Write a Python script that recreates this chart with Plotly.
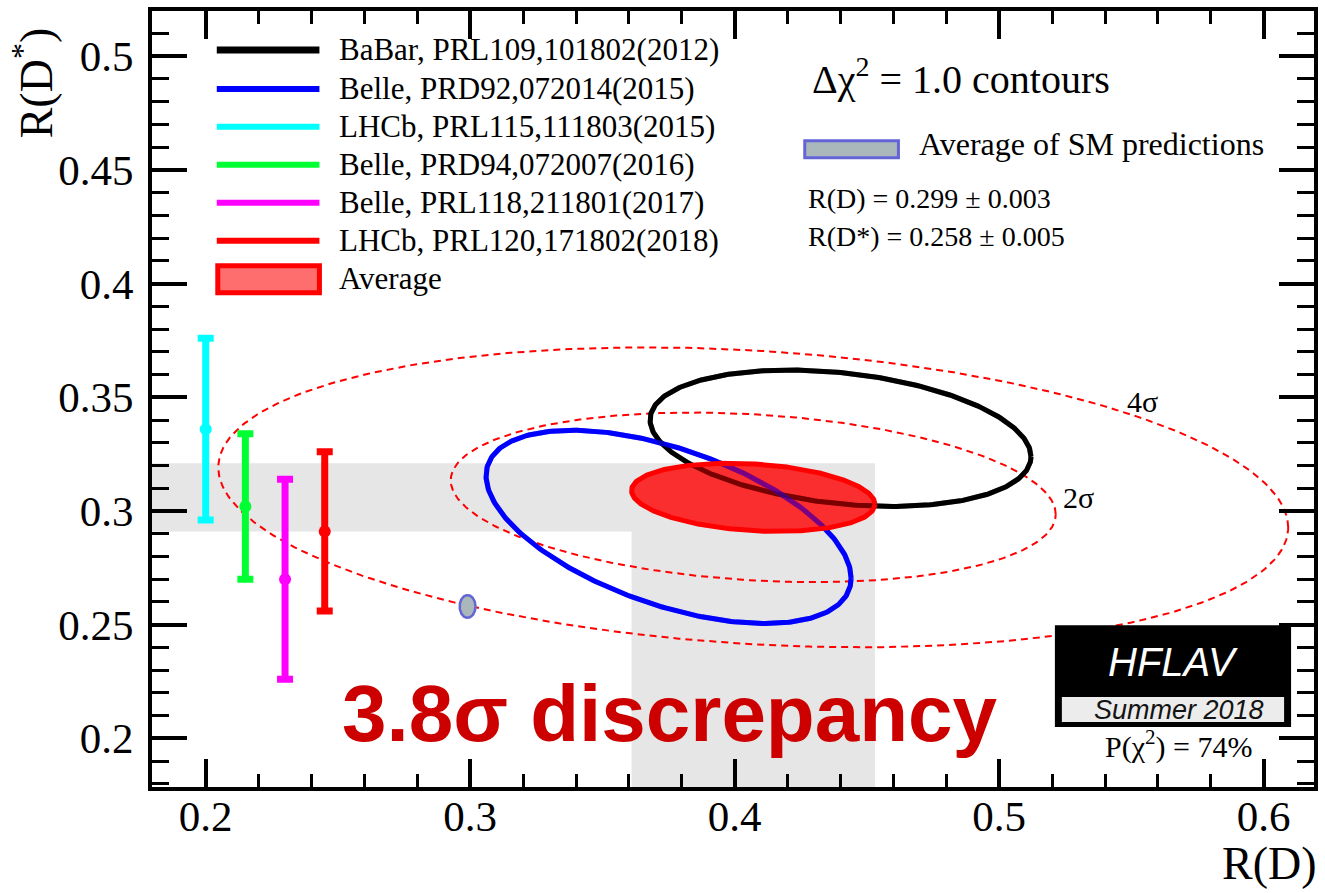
import numpy as np
import plotly.graph_objects as go

# ---------------- data ----------------
x_range = [0.1797, 0.619]
y_range = [0.1786, 0.5199]
x_tickvals = [0.2, 0.3, 0.4, 0.5, 0.6]
x_ticktext = ["0.2", "0.3", "0.4", "0.5", "0.6"]
y_tickvals = [0.2, 0.25, 0.3, 0.35, 0.4, 0.45, 0.5]
y_ticktext = ["0.2", "0.25", "0.3", "0.35", "0.4", "0.45", "0.5"]

# 2D measurements (Delta chi2 = 1 ellipses)
ell_names = ["BaBar, PRL109,101802(2012)", "Belle, PRD92,072014(2015)"]
ell_rd = [0.440, 0.375]
ell_rd_err = [0.072, 0.069]
ell_rds = [0.332, 0.293]
ell_rds_err = [0.030, 0.0425]
ell_rho = [-0.27, -0.53]
ell_colors = ["#000000", "#0000ff"]

# R(D*)-only measurements
bar_names = ["LHCb, PRL115,111803(2015)", "Belle, PRD94,072007(2016)",
             "Belle, PRL118,211801(2017)", "LHCb, PRL120,171802(2018)"]
bar_rd_pos = [0.200, 0.215, 0.230, 0.245]
bar_rds = [0.336, 0.302, 0.270, 0.291]
bar_rds_err = [0.040, 0.032, 0.044, 0.035]
bar_colors = ["#00ffff", "#00ff33", "#ff00ff", "#ff0000"]

# average
avg_rd, avg_rd_err = 0.407, 0.046
avg_rds, avg_rds_err = 0.306, 0.015
avg_rho = -0.20

# SM prediction
sm_rd, sm_rd_err = 0.299, 0.003
sm_rds, sm_rds_err = 0.258, 0.005

contour_labels = ["2σ", "4σ"]
contour_dchi2 = [6.18, 19.33]
contour_label_x = [0.530, 0.554]
contour_label_y = [0.306, 0.348]

legend_names = ell_names + bar_names
legend_colors = ell_colors + bar_colors
legend_widths = [7, 6, 6, 6, 6, 6]

# ---------------- geometry helpers ----------------
W, H = 1325, 893
ML, MR, MT, MB = 152, 7, 10, 106
PW = W - ML - MR
PH = H - MT - MB


def px(x):
    return (x - ML) / PW


def py(y):
    return (H - MB - y) / PH


def ellipse(mx, my, sx, sy, rho, k=1.0, n=361):
    t = np.linspace(0, 2 * np.pi, n)
    x = mx + k * sx * np.cos(t)
    y = my + k * sy * (rho * np.cos(t) + np.sqrt(1 - rho ** 2) * np.sin(t))
    return x, y


SERIF = "Liberation Serif"
SANS = "Liberation Sans"

fig = go.Figure()

# gray bands (average +- error)
xl = x_range[0] - 0.01
yl = y_range[0] - 0.01
band_x = [xl, avg_rd - avg_rd_err, avg_rd - avg_rd_err, avg_rd + avg_rd_err,
          avg_rd + avg_rd_err, xl, xl]
band_y = [avg_rds - avg_rds_err, avg_rds - avg_rds_err, yl, yl,
          avg_rds + avg_rds_err, avg_rds + avg_rds_err, avg_rds - avg_rds_err]
fig.add_trace(go.Scatter(x=band_x, y=band_y, fill="toself", mode="lines",
                         line=dict(width=0), fillcolor="rgb(230,230,230)",
                         hoverinfo="skip", showlegend=False))

# dashed n-sigma contours around the average
for lab, d in zip(contour_labels, contour_dchi2):
    cx, cy = ellipse(avg_rd, avg_rds, avg_rd_err, avg_rds_err, avg_rho, k=np.sqrt(d))
    fig.add_trace(go.Scatter(x=cx, y=cy, mode="lines",
                             line=dict(color="#ff0000", width=2, dash="7px,5px"),
                             showlegend=False, hoverinfo="skip"))

# measurement ellipses
for i in range(len(ell_names)):
    ex, ey = ellipse(ell_rd[i], ell_rds[i], ell_rd_err[i], ell_rds_err[i], ell_rho[i])
    fig.add_trace(go.Scatter(x=ex, y=ey, mode="lines",
                             line=dict(color=ell_colors[i], width=5),
                             name=ell_names[i], showlegend=False))

# average filled ellipse
ax_, ay_ = ellipse(avg_rd, avg_rds, avg_rd_err, avg_rds_err, avg_rho)
fig.add_trace(go.Scatter(x=ax_, y=ay_, mode="lines", fill="toself",
                         fillcolor="rgba(255,0,0,0.8)", line=dict(width=0),
                         showlegend=False, hoverinfo="skip"))
# lines seen through the translucent average
for i in range(len(ell_names)):
    ex, ey = ellipse(ell_rd[i], ell_rds[i], ell_rd_err[i], ell_rds_err[i], ell_rho[i])
    fig.add_trace(go.Scatter(x=ex, y=ey, mode="lines", opacity=0.4,
                             line=dict(color=ell_colors[i], width=5),
                             showlegend=False, hoverinfo="skip"))
fig.add_trace(go.Scatter(x=ax_, y=ay_, mode="lines",
                         line=dict(color="#ff0000", width=5),
                         name="Average", showlegend=False))

# SM prediction ellipse
sx_, sy_ = ellipse(sm_rd, sm_rds, sm_rd_err, sm_rds_err, 0.0)
fig.add_trace(go.Scatter(x=sx_, y=sy_, mode="lines", fill="toself",
                         fillcolor="rgb(170,184,188)",
                         line=dict(color="rgb(100,100,215)", width=2.5),
                         name="Average of SM predictions", showlegend=False))

# R(D*) only measurements
for i in range(len(bar_names)):
    fig.add_trace(go.Scatter(
        x=[bar_rd_pos[i]], y=[bar_rds[i]], mode="markers",
        marker=dict(color=bar_colors[i], size=12),
        error_y=dict(type="data", array=[bar_rds_err[i]], color=bar_colors[i],
                     thickness=7, width=8),
        name=bar_names[i], showlegend=False))

# ---------------- annotations & decorations ----------------
ann = []
shapes = []

# legend (left)
leg_y = [49, 88, 126, 164, 202, 240]
for name, col, lw, yy in zip(legend_names, legend_colors, legend_widths, leg_y):
    shapes.append(dict(type="line", xref="paper", yref="paper",
                       x0=px(217), x1=px(320), y0=py(yy), y1=py(yy),
                       line=dict(color=col, width=lw)))
    ann.append(dict(text=name, x=px(338), y=py(yy), xref="paper", yref="paper",
                    xanchor="left", yanchor="middle", showarrow=False,
                    font=dict(family=SERIF, size=31, color="black")))
shapes.append(dict(type="rect", xref="paper", yref="paper",
                   x0=px(218), x1=px(320), y0=py(292), y1=py(265),
                   fillcolor="rgb(255,110,110)", line=dict(color="#ff0000", width=5)))
ann.append(dict(text="Average", x=px(338), y=py(278), xref="paper", yref="paper",
                xanchor="left", yanchor="middle", showarrow=False,
                font=dict(family=SERIF, size=31, color="black")))

# right block
ann.append(dict(text="Δχ<sup>2</sup> = 1.0 contours", x=px(812), y=py(76),
                xref="paper", yref="paper", xanchor="left", yanchor="middle",
                showarrow=False, font=dict(family=SERIF, size=40, color="black")))
shapes.append(dict(type="rect", xref="paper", yref="paper",
                   x0=px(807), x1=px(901), y0=py(157), y1=py(140),
                   fillcolor="rgb(170,184,188)", line=dict(color="rgb(100,100,215)", width=3)))
ann.append(dict(text="Average of SM predictions", x=px(920), y=py(143),
                xref="paper", yref="paper", xanchor="left", yanchor="middle",
                showarrow=False, font=dict(family=SERIF, size=32, color="black")))
ann.append(dict(text=f"R(D) = {sm_rd:.3f} ± {sm_rd_err:.3f}", x=px(808), y=py(198),
                xref="paper", yref="paper", xanchor="left", yanchor="middle",
                showarrow=False, font=dict(family=SERIF, size=28, color="black")))
ann.append(dict(text=f"R(D*) = {sm_rds:.3f} ± {sm_rds_err:.3f}", x=px(808), y=py(236),
                xref="paper", yref="paper", xanchor="left", yanchor="middle",
                showarrow=False, font=dict(family=SERIF, size=28, color="black")))

# contour labels
for lab, lx, ly in zip(contour_labels, contour_label_x, contour_label_y):
    ann.append(dict(text=lab, x=lx, y=ly, xref="x", yref="y", showarrow=False,
                    xanchor="center", yanchor="middle",
                    font=dict(family=SERIF, size=30, color="black")))

# big discrepancy text
ann.append(dict(text="<b>3.8σ discrepancy</b>", x=px(672), y=py(713),
                xref="paper", yref="paper", xanchor="center", yanchor="middle",
                showarrow=False, font=dict(family=SANS, size=80, color="rgb(205,0,0)")))

# HFLAV logo
shapes.append(dict(type="rect", xref="paper", yref="paper", layer="above",
                   x0=px(1058), x1=px(1295), y0=py(727), y1=py(625),
                   fillcolor="black", line=dict(width=0)))
shapes.append(dict(type="rect", xref="paper", yref="paper", layer="above",
                   x0=px(1065), x1=px(1288), y0=py(722), y1=py(697),
                   fillcolor="rgb(236,236,236)", line=dict(width=0)))
ann.append(dict(text="<i>HFLAV</i>", x=px(1177), y=py(662), xref="paper", yref="paper",
                xanchor="center", yanchor="middle", showarrow=False,
                font=dict(family=SANS, size=40, color="white")))
ann.append(dict(text="<i>Summer 2018</i>", x=px(1183), y=py(710), xref="paper", yref="paper",
                xanchor="center", yanchor="middle", showarrow=False,
                font=dict(family=SANS, size=27, color="rgb(20,20,20)")))
ann.append(dict(text="P(χ<sup>2</sup>) = 74%", x=px(1182), y=py(744), xref="paper", yref="paper",
                xanchor="center", yanchor="middle", showarrow=False,
                font=dict(family=SERIF, size=30, color="black")))

# axis titles
ann.append(dict(text="R(D)", x=px(1323), y=py(891), xref="paper", yref="paper",
                xanchor="right", yanchor="bottom", showarrow=False,
                font=dict(family=SERIF, size=46, color="black")))
ann.append(dict(text="R(D<sup>*</sup>)", x=px(32), y=py(82), xref="paper", yref="paper",
                xanchor="center", yanchor="middle", showarrow=False, textangle=-90,
                font=dict(family=SERIF, size=46, color="black")))

axis_common = dict(showline=True, linewidth=4, linecolor="black", mirror="allticks",
                   ticks="inside", tickcolor="black", tickwidth=3.5,
                   showgrid=False, zeroline=False,
                   tickfont=dict(family=SERIF, size=43, color="black"))

fig.update_layout(
    width=W, height=H, autosize=False,
    margin=dict(l=ML, r=MR, t=MT, b=MB, pad=0),
    paper_bgcolor="white", plot_bgcolor="white",
    showlegend=False,
    xaxis=dict(range=x_range, tickmode="array", tickvals=x_tickvals, ticktext=x_ticktext,
               ticklen=28, ticklabelstandoff=-12,
               minor=dict(ticks="inside", ticklen=13, tickwidth=3, tickcolor="black",
                          tick0=0, dtick=0.02, showgrid=False),
               **axis_common),
    yaxis=dict(range=y_range, tickmode="array", tickvals=y_tickvals, ticktext=y_ticktext,
               ticklen=35, ticklabelstandoff=6,
               minor=dict(ticks="inside", ticklen=17, tickwidth=3, tickcolor="black",
                          tick0=0, dtick=0.01, showgrid=False),
               **axis_common),
    annotations=ann,
    shapes=shapes,
)

fig.write_html("out.html")
